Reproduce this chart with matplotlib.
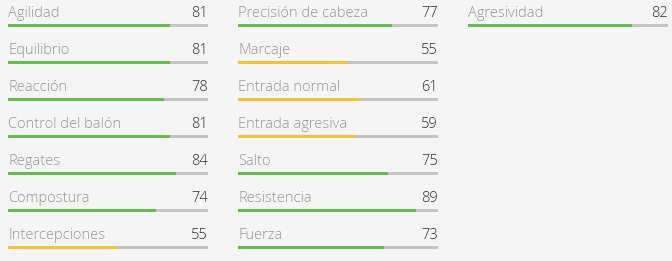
import matplotlib.pyplot as plt

# stat names and values per column
col1_labels = ['Agilidad', 'Equilibrio', 'Reacción', 'Control del balón', 'Regates', 'Compostura', 'Intercepciones']
col1_values = [81, 81, 78, 81, 84, 74, 55]
col2_labels = ['Precisión de cabeza', 'Marcaje', 'Entrada normal', 'Entrada agresiva', 'Salto', 'Resistencia', 'Fuerza']
col2_values = [77, 55, 61, 59, 75, 89, 73]
col3_labels = ['Agresividad']
col3_values = [82]

columns = [(col1_labels, col1_values), (col2_labels, col2_values), (col3_labels, col3_values)]

W, H = 672, 261
bg = '#f5f5f5'
green = '#66bb4c'
yellow = '#f0c33c'
track = '#c4c4c4'
row_px = 37.0
bar_px = 25.5

plt.rcParams['font.family'] = ['Open Sans', 'DejaVu Sans']

fig = plt.figure(figsize=(W / 100, H / 100), dpi=100)
fig.patch.set_facecolor(bg)

for c, (labels, values) in enumerate(columns):
    x0 = 8 + c * 230
    ax = fig.add_axes([x0 / W, 0, 200 / W, 1])
    ax.set_facecolor(bg)
    ax.set_xlim(0, 100)
    ax.set_ylim((H - bar_px) / row_px, -bar_px / row_px)
    ax.axis('off')
    rows = range(len(labels))
    ax.barh(rows, [100] * len(labels), height=3.2 / row_px, color=track, linewidth=0)
    colors = [green if v >= 70 else yellow for v in values]
    ax.barh(rows, values, height=3.2 / row_px, color=colors, linewidth=0)
    for i, (lab, v) in enumerate(zip(labels, values)):
        ty = i - 8.5 / row_px
        ax.text(0, ty, lab, fontsize=10.5, color='#969696', ha='left', va='baseline', fontweight='light')
        ax.text(100, ty, str(v), fontsize=10.5, color='#2e2e2e', ha='right', va='baseline', fontweight='light')

fig.savefig('out.png', dpi=100, facecolor=bg)
